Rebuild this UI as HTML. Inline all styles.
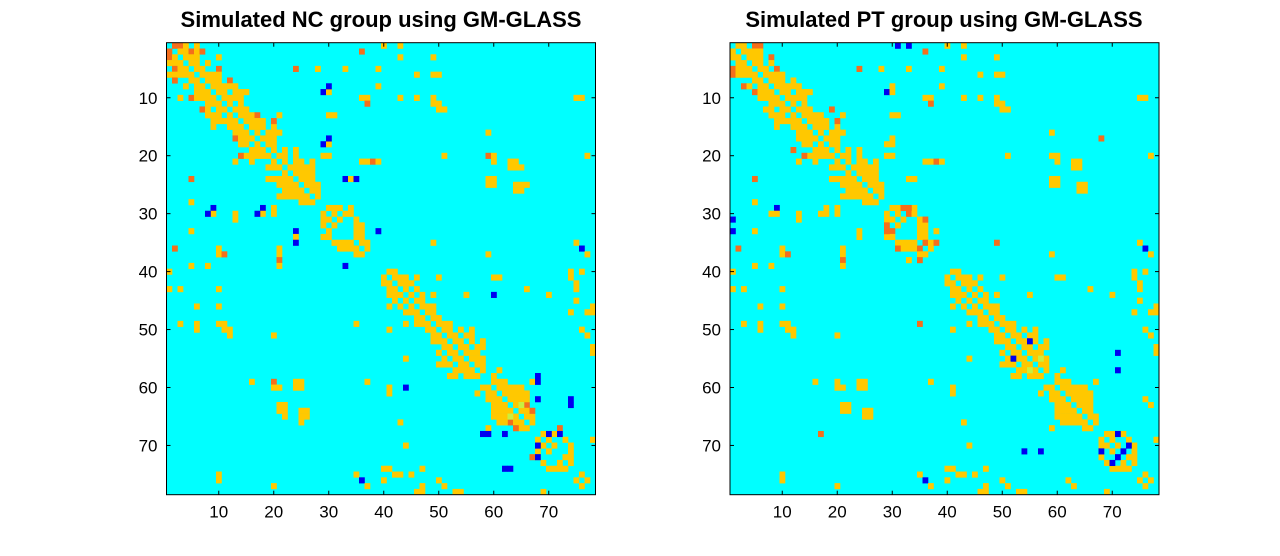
<!DOCTYPE html>
<html><head><meta charset="utf-8">
<style>
html,body{margin:0;padding:0;background:#fff;width:1280px;height:556px;overflow:hidden}
svg{display:block;font-family:"Liberation Sans",sans-serif}
</style></head>
<body>
<svg id="chart" width="1280" height="556" viewBox="0 0 1280 556" xmlns="http://www.w3.org/2000/svg">
<rect x="0" y="0" width="1280" height="556" fill="#fff"/>
<text x="381" y="27" text-anchor="middle" font-size="22" font-weight="bold">Simulated NC group using GM-GLASS</text>
<text x="944" y="27" text-anchor="middle" font-size="22" font-weight="bold">Simulated PT group using GM-GLASS</text>
<g id="left"></g>
<g id="right"></g>
</svg>
<script>
// matrix size and tick labels
const N = 78;
const ticks = [10, 20, 30, 40, 50, 60, 70];
// type codes: 1 yellow, 2 orange, 3 blue, 4 light green
const colors = ["#00ffff", "#ffc800", "#f46e1c", "#0000f0", "#c8f040"];
// NC group: upper-triangle entries "row,col,type" (mirrored)
const ncCells = [
"1,2,2","1,3,2","1,4,1","1,6,1","2,3,1","2,4,1","2,5,2","2,6,1","2,7,2","3,4,1","3,5,1","3,10,1","4,5,1","4,6,1","5,6,1","5,7,1","5,10,2","6,7,1","6,8,1","6,9,1","7,8,1","7,9,1","7,10,1","7,12,2","8,9,1","8,10,1","8,11,1","8,13,1","9,10,1","9,11,1","9,13,1","9,14,1","9,15,1","10,11,1","10,12,1","10,13,1","11,12,1","11,14,1","12,13,1","12,14,1","12,15,1","3,6,1","4,8,1","6,10,1","8,12,1","10,14,1",
"13,14,1","13,16,1","13,17,2","14,15,1","14,16,1","14,17,1","15,16,1","15,18,1","15,20,1","16,17,1","16,19,1","17,18,1","17,19,1","17,20,1","18,19,1","18,20,1","19,20,1","19,22,1","20,21,1","20,22,1","14,20,2","16,21,1","13,15,1","13,21,1","15,17,1","14,18,1","16,20,1",
"21,22,1","21,24,1","21,25,1","22,23,1","22,24,1","22,26,1","23,24,1","23,25,1","23,27,1","24,25,1","24,26,1","25,26,1","25,27,1","25,28,1","26,27,1","26,28,1","27,28,1","22,25,1","20,24,1","21,27,1","23,26,1","24,27,1","22,27,1",
"29,30,1","29,31,1","29,32,1","30,33,1","30,34,1","31,35,1","32,36,1","33,36,1","34,36,1","35,36,1","30,31,1","31,32,1","29,34,1","33,35,1","34,35,1","35,37,1","32,35,1","36,37,1",
"9,29,3","9,30,1","18,29,3","18,30,1","24,33,3","24,34,1","21,36,1","21,37,1","8,30,3","17,30,3","24,35,3","33,39,3","5,24,2","2,36,2","5,28,1","5,33,1","5,39,1","10,36,1","10,37,1","11,37,2","8,39,1","13,30,1","13,31,1","21,38,2","21,39,1","19,24,1","20,29,1","20,30,1",
"1,40,1","1,43,1","3,43,1","3,49,1","6,46,1","6,49,1","6,50,1","10,43,1","10,46,1","10,49,1","10,75,1","10,76,1","11,49,1","11,50,1","12,50,1","12,51,1","16,59,1","20,51,1","20,59,2","20,60,1","21,60,1","21,63,1","21,64,1","22,63,1","22,64,1","22,65,1","24,59,1","24,60,1","25,59,1","25,60,1","25,64,1","25,65,1","25,66,1","26,64,1","26,65,1","20,77,1","35,49,1","35,75,1","36,76,3","37,59,1","37,77,1",
"40,41,1","40,42,1","41,42,1","41,43,1","41,44,1","42,43,1","42,45,1","43,44,1","43,46,1","44,45,1","44,47,1","45,46,1","45,47,1","46,47,1","46,48,1","47,48,1","47,49,1","48,49,1","46,49,1","44,49,1","42,44,1","41,46,1",
"48,50,1","49,50,1","49,51,1","49,52,1","50,51,1","50,52,1","50,54,1","51,52,1","51,53,1","51,55,1","52,53,1","52,54,1","52,56,1","53,54,1","53,55,1","53,57,1","54,55,1","54,56,1","55,56,1","55,57,1","55,58,1","56,57,1","56,58,1","57,58,1","52,58,1","50,56,1","54,57,1","51,56,1","53,58,1",
"59,60,1","59,61,1","59,62,1","60,61,1","60,62,1","60,63,1","61,62,1","61,64,1","62,63,1","62,64,1","62,65,1","63,64,1","63,65,1","63,66,2","64,65,1","64,66,1","65,66,1","65,67,1","66,67,1","60,65,1","61,66,1","64,67,2","59,67,1","58,60,1","57,61,1","63,65,4","61,63,1","62,66,1",
"68,69,1","68,70,1","68,71,1","69,73,1","70,74,1","71,74,1","72,74,1","73,74,1","69,70,1","70,71,1","72,73,1","68,72,1","67,72,2",
"44,60,3","59,68,3","62,74,3","63,74,3","62,68,3","58,68,3","68,70,3","68,72,3","41,50,1","44,70,1","47,74,1","50,76,1","51,77,1","53,78,1","40,76,1","45,75,1","44,55,1","41,60,1","41,61,1","43,66,1","42,75,1","47,77,1","40,74,1","41,74,1","43,75,1","75,76,1","76,77,1","46,78,1","47,78,1","54,78,1","69,78,1","60,64,1","61,65,1"
];
// PT group: upper-triangle entries "row,col,type" (mirrored)
const ptCells = [
"1,2,1","1,3,1","1,5,2","1,6,2","2,3,1","2,4,1","2,5,1","2,6,1","3,4,1","3,5,1","3,8,2","4,5,1","4,6,1","5,6,1","5,7,1","5,9,2","6,7,1","6,8,1","6,9,1","7,8,1","7,9,1","7,10,1","7,12,1","8,9,1","8,10,1","8,11,1","8,13,1","9,10,1","9,11,1","9,13,1","9,14,1","9,15,1","10,11,1","10,12,1","10,13,1","11,12,1","11,14,1","12,13,1","12,14,1","12,15,1","3,6,1","4,8,1","6,10,1","8,12,1","10,14,1",
"13,14,1","13,16,1","13,17,1","14,15,1","14,16,1","14,17,1","15,16,1","15,18,1","15,20,1","16,17,1","16,19,1","17,18,1","17,19,1","17,20,1","18,19,1","18,20,1","19,20,1","19,22,1","20,21,1","20,22,1","14,20,2","16,21,1","13,15,1","13,21,1","15,17,1","12,19,2","14,18,1","16,20,1",
"21,22,1","21,24,1","21,25,1","22,23,1","22,24,1","22,26,1","23,24,1","23,25,1","23,27,1","24,25,1","24,26,1","25,26,1","25,27,1","25,28,1","26,27,1","26,28,1","27,28,1","22,25,1","20,24,1","21,27,1","23,26,1","24,27,1","22,27,1",
"29,30,1","29,31,1","29,32,2","30,33,2","30,34,1","31,35,1","32,36,1","33,36,1","34,36,1","35,36,2","30,31,1","31,32,1","29,34,1","33,35,1","34,35,1","35,37,1","32,35,1","36,37,1","29,33,2","31,36,2","35,38,2","33,38,1",
"9,29,3","9,30,1","1,33,3","18,29,1","18,30,1","24,33,1","24,34,1","21,36,1","21,37,1","8,30,1","17,30,1","5,24,2","2,36,2","5,28,1","5,33,1","5,39,1","10,36,1","10,37,1","11,37,2","8,39,1","13,30,1","13,31,1","21,38,2","21,39,1","19,24,1","20,29,1","20,30,1","1,31,3",
"1,40,1","1,43,1","3,43,1","3,49,1","6,46,1","6,49,1","6,50,1","10,43,1","10,46,1","10,49,1","10,75,1","10,76,1","11,49,1","11,50,1","12,50,1","12,51,1","16,59,1","20,51,1","20,59,1","20,60,1","21,60,1","21,63,1","21,64,1","22,63,1","22,64,1","24,59,1","24,60,1","25,59,1","25,60,1","25,64,1","25,65,1","26,64,1","26,65,1","20,77,1","35,49,2","35,75,1","36,76,3","37,59,1","37,77,1",
"40,41,1","40,42,1","41,42,1","41,43,1","41,44,1","42,43,1","42,45,1","43,44,1","43,46,1","44,45,1","44,47,1","45,46,1","45,47,1","46,47,1","46,48,1","47,48,1","47,49,1","48,49,1","46,49,1","44,49,1","42,44,1","41,46,1",
"48,50,1","49,50,1","49,51,1","49,52,1","50,51,1","50,52,1","50,54,1","51,52,1","51,53,1","51,55,1","52,53,1","52,54,1","52,56,1","53,54,1","53,55,1","53,57,1","54,55,1","54,56,1","55,56,1","55,57,1","55,58,1","56,57,1","56,58,1","57,58,1","52,58,1","50,56,1","54,57,1","52,55,3","55,57,4","51,56,1","53,58,1",
"59,60,1","59,61,1","59,62,1","60,61,1","60,62,1","60,63,1","61,62,1","61,64,1","62,63,1","62,64,1","62,65,1","63,64,1","63,65,1","63,66,1","64,65,1","64,66,1","65,66,1","65,67,1","66,67,1","60,65,1","61,66,1","59,67,1","58,60,1","57,61,1","61,63,1","62,66,1",
"68,69,1","68,70,1","68,71,1","69,73,1","70,74,1","71,74,1","72,74,1","73,74,1","69,70,1","70,71,1","72,73,1","68,72,1","68,71,3","70,73,3","71,72,3",
"54,71,3","57,71,3","41,50,1","44,70,1","47,74,1","50,76,1","51,77,1","53,78,1","40,76,1","45,75,1","44,55,1","41,60,1","41,61,1","43,66,1","42,75,1","47,77,1","40,74,1","41,74,1","43,75,1","75,76,1","76,77,1","46,78,1","47,78,1","54,78,1","69,78,1","60,64,1","61,65,1","17,68,2","62,76,1","63,77,1"
];

const NS = "http://www.w3.org/2000/svg";
function el(tag, attrs, parent){const e=document.createElementNS(NS,tag);for(const k in attrs)e.setAttribute(k,attrs[k]);parent.appendChild(e);return e;}

function drawPanel(g, x0, cells){
  const y0 = 42.7, w = 429, h = 452;
  const cw = w / N, ch = h / N;
  const xs = c => x0 + (c - 1) * cw;
  const ys = r => y0 + (r - 1) * ch;
  const bg = el("rect",{x:x0,y:y0,width:w,height:h,fill:colors[0]},g);
  
  
  cells.forEach(s => {
    const [r,c,t] = s.split(",").map(Number);
    [[r,c],[c,r]].forEach(([rr,cc]) => {
      const rc = el("rect",{x:xs(cc),y:ys(rr),width:cw+0.3,height:ch+0.3,fill:colors[t]},g);
      
      
    });
  });
  const frame = el("rect",{x:x0,y:y0,width:w,height:h,fill:"none",stroke:"#000","stroke-width":1},g);
  
  
  ticks.forEach(t => {
    const tx = xs(t) + cw/2, ty = ys(t) + ch/2;
    el("line",{x1:tx,y1:y0+h,x2:tx,y2:y0+h-4,stroke:"#000"},g);
    el("line",{x1:tx,y1:y0,x2:tx,y2:y0+4,stroke:"#000"},g);
    el("line",{x1:x0,y1:ty,x2:x0+4,y2:ty,stroke:"#000"},g);
    el("line",{x1:x0+w,y1:ty,x2:x0+w-4,y2:ty,stroke:"#000"},g);
    const xl = el("text",{x:tx,y:y0+h+23,"text-anchor":"middle","font-size":17},g);
    xl.textContent = t;
    
    
    const yl = el("text",{x:x0-9,y:ty+6,"text-anchor":"end","font-size":17},g);
    yl.textContent = t;
    
    
  });
}
drawPanel(document.getElementById("left"), 166.5, ncCells);
drawPanel(document.getElementById("right"), 730, ptCells);
</script>
</body></html>
